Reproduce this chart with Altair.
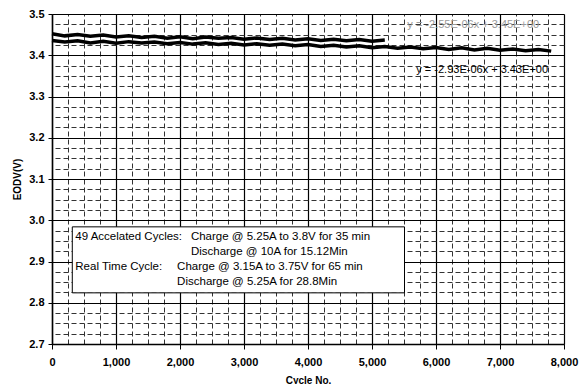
import altair as alt
import pandas as pd

# ---- data ----
acc_cycles = list(range(0, 5201, 200))
acc_eodv = [3.452, 3.447, 3.450, 3.446, 3.449, 3.444, 3.447, 3.443, 3.446, 3.441,
            3.445, 3.440, 3.444, 3.441, 3.443, 3.439, 3.442, 3.438, 3.441, 3.437,
            3.440, 3.436, 3.439, 3.435, 3.438, 3.434, 3.437]
rt_cycles = list(range(0, 7801, 200))
rt_eodv = [3.436, 3.432, 3.435, 3.430, 3.434, 3.429, 3.433, 3.430, 3.432, 3.428,
           3.431, 3.427, 3.430, 3.426, 3.429, 3.425, 3.428, 3.424, 3.427, 3.423,
           3.426, 3.421, 3.424, 3.420, 3.423, 3.418, 3.421, 3.417, 3.420, 3.416,
           3.419, 3.414, 3.418, 3.413, 3.417, 3.412, 3.415, 3.411, 3.414, 3.410]

x_major = [i * 1000 for i in range(9)]
x_minor = [i * 250 for i in range(33) if i % 4 != 0]
y_major = [round(2.7 + i * 0.1, 2) for i in range(9)]
y_minor = [round(2.7 + i * 0.025, 3) for i in range(33) if i % 4 != 0]

eq_texts = ["y = -2.55E-06x + 3.45E+00", "y = -2.93E-06x + 3.43E+00"]
eq_x = [5552, 5692]
eq_y = [3.473, 3.364]
eq_colors = ["#9a9a9a", "#000000"]

box_left_texts = ["49 Accelated Cycles:", "Real  Time Cycle:"]
box_left_x = [364, 364]
box_left_y = [2.959, 2.887]
box_right_texts = ["Charge @ 5.25A to 3.8V for 35 min", "Discharge @ 10A for 15.12Min",
                   "Charge @ 3.15A to 3.75V for 65 min", "Discharge @ 5.25A for 28.8Min"]
box_right_x = [2170, 2170, 1955, 1955]
box_right_y = [2.959, 2.923, 2.887, 2.850]
box_x = [317, 5508]
box_y = [2.984, 2.824]

FONT = "Liberation Sans"

series = pd.concat([
    pd.DataFrame({"cycle": acc_cycles, "eodv": acc_eodv, "s": "acc"}),
    pd.DataFrame({"cycle": rt_cycles, "eodv": rt_eodv, "s": "rt"}),
])

xscale = alt.Scale(domain=[0, 8000], nice=False, zero=False)
yscale = alt.Scale(domain=[2.7, 3.5], nice=False, zero=False)

# minor dashed grid (independent axes, no labels/ticks/domain)
x_minor_axis = alt.Axis(values=x_minor, orient="top", grid=True, gridDash=[5, 3],
                        gridColor="#333333", gridWidth=1, labels=False, ticks=False,
                        domain=False, title=None)
y_minor_axis = alt.Axis(values=y_minor, orient="right", grid=True, gridDash=[5, 3],
                        gridColor="#333333", gridWidth=1, labels=False, ticks=False,
                        domain=False, title=None)
minor = alt.Chart(series).mark_point(opacity=0).encode(
    x=alt.X("cycle:Q", scale=xscale, axis=x_minor_axis),
    y=alt.Y("eodv:Q", scale=yscale, axis=y_minor_axis),
)

x_axis = alt.Axis(
    values=x_major, title="Cycle No.", format=",.0f", orient="bottom",
    labelOverlap=False, labelFlush=False, labelFont=FONT, labelFontWeight="bold",
    labelFontSize=11, labelColor="black", labelPadding=7,
    titleFont=FONT, titleFontWeight="bold", titleFontSize=10, titleColor="black",
    titlePadding=8,
    grid=True, gridColor="black", gridWidth=1.2, gridOpacity=1,
    tickColor="black", tickSize=5, domainColor="black", domainWidth=1.5,
)
y_axis = alt.Axis(
    values=y_major, title="EODV(V)", format=".1f", orient="left",
    labelOverlap=False, labelFont=FONT, labelFontWeight="bold", labelFontSize=11,
    labelColor="black", labelPadding=4,
    titleFont=FONT, titleFontWeight="bold", titleFontSize=10, titleColor="black",
    titlePadding=6,
    grid=True, gridColor="black", gridWidth=1.2, gridOpacity=1,
    tickColor="black", tickSize=4, domainColor="black", domainWidth=1.5,
)

lines = alt.Chart(series).mark_line(color="black", strokeWidth=3.5).encode(
    x=alt.X("cycle:Q", scale=xscale, axis=x_axis),
    y=alt.Y("eodv:Q", scale=yscale, axis=y_axis),
    detail="s:N",
)

eq_df = pd.DataFrame({"t": eq_texts, "x": eq_x, "y": eq_y, "c": eq_colors})
eqs = alt.Chart(eq_df).mark_text(align="left", baseline="middle", font=FONT, fontSize=11).encode(
    x=alt.X("x:Q", scale=xscale, axis=None), y=alt.Y("y:Q", scale=yscale, axis=None),
    text="t:N", color=alt.Color("c:N", scale=None),
)

box_df = pd.DataFrame({"x": [box_x[0]], "x2": [box_x[1]], "y": [box_y[0]], "y2": [box_y[1]]})
box = alt.Chart(box_df).mark_rect(fill="white", stroke="black", strokeWidth=1).encode(
    x=alt.X("x:Q", scale=xscale, axis=None), x2="x2:Q",
    y=alt.Y("y:Q", scale=yscale, axis=None), y2="y2:Q",
)

bl_df = pd.DataFrame({"t": box_left_texts, "x": box_left_x, "y": box_left_y})
bl = alt.Chart(bl_df).mark_text(align="left", baseline="middle", font=FONT, fontSize=11.5, color="black").encode(
    x=alt.X("x:Q", scale=xscale, axis=None), y=alt.Y("y:Q", scale=yscale, axis=None), text="t:N",
)
br_df = pd.DataFrame({"t": box_right_texts, "x": box_right_x, "y": box_right_y})
br = alt.Chart(br_df).mark_text(align="left", baseline="middle", font=FONT, fontSize=11.5, color="black").encode(
    x=alt.X("x:Q", scale=xscale, axis=None), y=alt.Y("y:Q", scale=yscale, axis=None), text="t:N",
)

chart = alt.layer(minor, lines, eqs, box, bl, br).resolve_axis(
    x="independent", y="independent"
).properties(
    width=512, height=330,
    autosize=alt.AutoSizeParams(type="none"),
    padding={"left": 52, "top": 14, "right": 19, "bottom": 40},
).configure_view(stroke="black", strokeWidth=1.5).configure(background="white")

chart.save("out.html", embed_options={"renderer": "svg", "actions": False})
